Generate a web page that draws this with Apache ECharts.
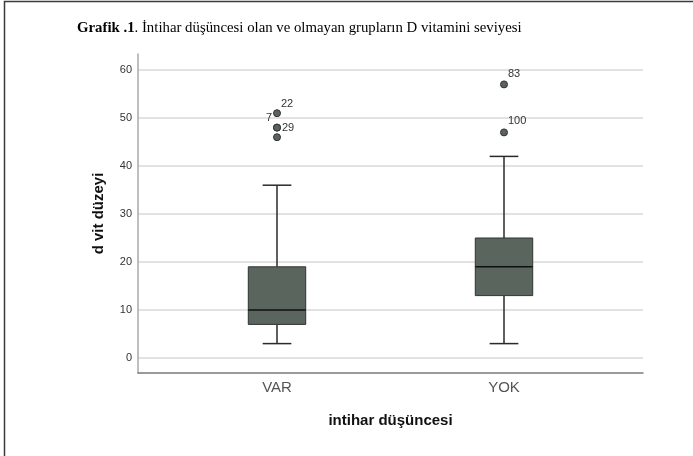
<!DOCTYPE html>
<html>
<head>
<meta charset="utf-8">
<script src="https://cdn.jsdelivr.net/npm/echarts@6/dist/echarts.min.js"></script>
<style>html,body{margin:0;padding:0;background:#fff;}#c{width:693px;height:456px;}</style>
</head>
<body>
<div id="c"></div>
<script>
const categories = ['VAR', 'YOK'];
const minVals = [3, 3];
const q1Vals = [7, 13];
const medianVals = [10, 19];
const q3Vals = [19, 25];
const maxVals = [36, 42];
const outlierGroup = [0, 0, 0, 0, 1, 1];
const outlierValues = [51, 48, 48, 46, 57, 47];
const outlierIds = ['22', '29', '7', '', '83', '100'];
const yTicks = [0, 10, 20, 30, 40, 50, 60];

const labelPlacement = {
  '22': { position: 'right', distance: 0, offset: [0, -9] },
  '29': { position: 'right', distance: 1, offset: [0, 0] },
  '7': { position: 'left', distance: 1, offset: [0, -9.5] },
  '83': { position: 'right', distance: 0, offset: [0, -10] },
  '100': { position: 'right', distance: 0, offset: [0, -11] }
};

const boxData = categories.map((c, i) => [i, minVals[i], q1Vals[i], medianVals[i], q3Vals[i], maxVals[i]]);
const outlierData = outlierValues.map((v, i) => {
  const id = outlierIds[i];
  const p = labelPlacement[id];
  return {
    value: [outlierGroup[i], v],
    label: id ? { show: true, formatter: id, position: p.position, distance: p.distance, offset: p.offset } : { show: false }
  };
});

const chart = echarts.init(document.getElementById('c'), null, { renderer: 'canvas' });
const font = 'Liberation Sans, Arial, sans-serif';
const serif = 'Liberation Serif, Times New Roman, serif';
const yMin = yTicks[0], yMax = yTicks[yTicks.length - 1];

chart.setOption({
  animation: false,
  backgroundColor: '#fff',
  title: {
    text: '{b|Grafik .1}{n|. İntihar düşüncesi olan ve olmayan grupların D vitamini seviyesi}',
    left: 77, top: 21, padding: 0,
    textStyle: {
      fontWeight: 'normal', fontFamily: serif, fontSize: 14.8, color: '#000',
      rich: {
        b: { fontFamily: serif, fontWeight: 'bold', fontSize: 14.8, color: '#000' },
        n: { fontFamily: serif, fontWeight: 'normal', fontSize: 14.8, color: '#000' }
      }
    }
  },
  graphic: [{
    type: 'rect', silent: true, z: 100,
    shape: { x: 4.5, y: 1.5, width: 800, height: 700 },
    style: { fill: 'none', stroke: '#3a3a3a', lineWidth: 1.5 }
  }],
  grid: [
    { left: 138, right: 50, top: 54, bottom: 83 },
    { left: 138, right: 50, top: 70, bottom: 98 },
    { left: 163.5, right: 75.5, top: 70, bottom: 98 }
  ],
  xAxis: [
    { gridIndex: 0, type: 'value', min: 0, max: 1, axisLine: { show: true, onZero: false, lineStyle: { color: '#7a7a7a', width: 1.5 } }, axisTick: { show: false }, axisLabel: { show: false }, splitLine: { show: false } },
    { gridIndex: 1, type: 'value', min: 0, max: 1, show: false },
    {
      gridIndex: 2, type: 'category', data: categories, boundaryGap: true,
      axisLine: { show: false }, axisTick: { show: false },
      axisLabel: { margin: 22, fontSize: 15, fontFamily: font, color: '#555' },
      name: 'intihar düşüncesi', nameLocation: 'middle', nameGap: 55,
      nameTextStyle: { fontSize: 15, fontWeight: 'bold', fontFamily: font, color: '#111' }
    }
  ],
  yAxis: [
    {
      gridIndex: 0, type: 'value', min: -3.125, max: 63.33,
      axisLine: { show: true, onZero: false, lineStyle: { color: '#a8a8a8', width: 1.5 } },
      axisTick: { show: false }, axisLabel: { show: false }, splitLine: { show: false },
      name: 'd vit düzeyi', nameLocation: 'middle', nameGap: 32,
      nameTextStyle: { fontSize: 15, fontWeight: 'bold', fontFamily: font, color: '#111' }
    },
    {
      gridIndex: 1, type: 'value', min: yMin, max: yMax, interval: 10,
      axisLine: { show: false }, axisTick: { show: false },
      axisLabel: { margin: 6, fontSize: 11, fontFamily: font, color: '#333' },
      splitLine: { show: true, lineStyle: { color: '#d9d9d9', width: 1.5 } }
    },
    { gridIndex: 2, type: 'value', min: yMin, max: yMax, show: false }
  ],
  series: [
    {
      type: 'custom', xAxisIndex: 2, yAxisIndex: 2,
      encode: { x: 0, y: [1, 2, 3, 4, 5] },
      data: boxData,
      renderItem: function (params, api) {
        const i = api.value(0);
        const pMin = api.coord([i, api.value(1)]);
        const pQ1 = api.coord([i, api.value(2)]);
        const pMed = api.coord([i, api.value(3)]);
        const pQ3 = api.coord([i, api.value(4)]);
        const pMax = api.coord([i, api.value(5)]);
        const bw = api.size([1, 0])[0] * 0.253;
        const cw = bw / 2;
        const x = pMed[0];
        const ls = { stroke: '#2a2a2a', lineWidth: 1.5 };
        return {
          type: 'group',
          children: [
            { type: 'line', shape: { x1: x, y1: pQ3[1], x2: x, y2: pMax[1] }, style: ls },
            { type: 'line', shape: { x1: x, y1: pQ1[1], x2: x, y2: pMin[1] }, style: ls },
            { type: 'line', shape: { x1: x - cw / 2, y1: pMax[1], x2: x + cw / 2, y2: pMax[1] }, style: ls },
            { type: 'line', shape: { x1: x - cw / 2, y1: pMin[1], x2: x + cw / 2, y2: pMin[1] }, style: ls },
            { type: 'rect', shape: { x: x - bw / 2, y: pQ3[1], width: bw, height: pQ1[1] - pQ3[1] }, style: { fill: '#5a655e', stroke: '#2f3430', lineWidth: 1 } },
            { type: 'line', shape: { x1: x - bw / 2, y1: pMed[1], x2: x + bw / 2, y2: pMed[1] }, style: { stroke: '#111', lineWidth: 1.5 } }
          ]
        };
      }
    },
    {
      type: 'scatter', xAxisIndex: 2, yAxisIndex: 2,
      symbol: 'circle', symbolSize: 7,
      itemStyle: { color: '#59625c', borderColor: '#333', borderWidth: 1, opacity: 1 },
      label: { fontSize: 11, fontFamily: font, color: '#333' },
      data: outlierData
    }
  ]
});
</script>
</body>
</html>
